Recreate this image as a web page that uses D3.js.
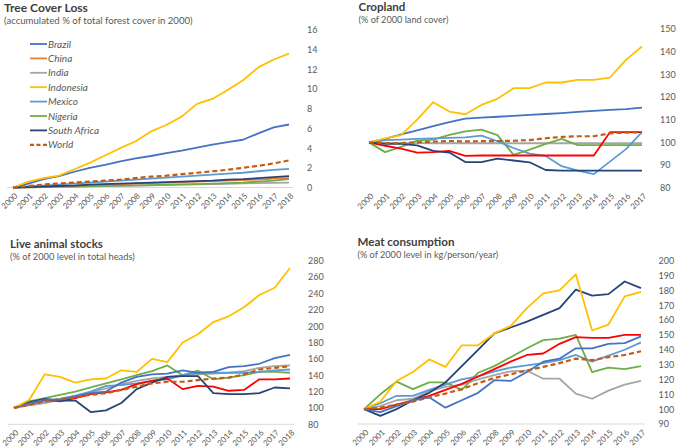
<!DOCTYPE html>
<html><head><meta charset="utf-8">
<script src="https://cdn.jsdelivr.net/npm/d3@7"></script>
<style>
body{margin:0;background:#fff;}
svg{display:block;}
text{font-family:Lato,"Open Sans",sans-serif;}
</style></head>
<body><svg id="c" width="676" height="448"></svg>
<script>
// ---------- tick labels / categories ----------
const years2018 = ["2000","2001","2002","2003","2004","2005","2006","2007","2008","2009","2010","2011","2012","2013","2014","2015","2016","2017","2018"];
const years2017 = years2018.slice(0, 18);
const countries = ["Brazil","China","India","Indonesia","Mexico","Nigeria","South Africa","World"];
const treeTicks = [0,2,4,6,8,10,12,14,16];
const cropTicks = [80,90,100,110,120,130,140,150];
const stockTicks = [80,100,120,140,160,180,200,220,240,260,280];
const meatTicks = [90,100,110,120,130,140,150,160,170,180,190,200];

// ---------- Tree cover loss (accumulated %) 2000-2018 ----------
const tcBrazil    = [0,0.4,0.85,1.15,1.6,2.0,2.3,2.65,2.95,3.2,3.5,3.75,4.05,4.35,4.6,4.85,5.5,6.1,6.4];
const tcChina     = [0,0.05,0.1,0.15,0.2,0.25,0.3,0.35,0.4,0.45,0.5,0.55,0.6,0.65,0.7,0.75,0.8,0.9,0.95];
const tcIndia     = [0,0.02,0.05,0.07,0.1,0.12,0.15,0.18,0.2,0.23,0.26,0.29,0.32,0.35,0.38,0.41,0.44,0.47,0.5];
const tcIndonesia = [0,0.6,0.95,1.2,1.85,2.5,3.25,4.0,4.7,5.7,6.35,7.2,8.5,9.0,9.9,10.9,12.2,13.0,13.6];
const tcMexico    = [0,0.1,0.2,0.3,0.4,0.5,0.6,0.7,0.8,0.9,1.0,1.1,1.2,1.3,1.4,1.5,1.65,1.8,1.9];
const tcNigeria   = [0,0.02,0.05,0.08,0.1,0.13,0.16,0.19,0.22,0.25,0.28,0.31,0.35,0.4,0.45,0.5,0.6,0.7,0.85];
const tcSAfrica   = [0,0.05,0.1,0.15,0.2,0.3,0.35,0.4,0.45,0.5,0.55,0.6,0.65,0.7,0.8,0.85,0.95,1.05,1.15];
const tcWorld     = [0,0.15,0.3,0.4,0.5,0.6,0.7,0.8,0.95,1.1,1.2,1.35,1.5,1.65,1.8,2.0,2.2,2.45,2.75];

// ---------- Cropland (% of 2000) 2000-2017 ----------
const crBrazil    = [100,101.5,103.5,105.3,107.2,108.9,110.5,110.9,111.3,111.7,112.1,112.5,112.9,113.4,113.9,114.3,114.7,115.3];
const crChina     = [100,98.5,97.2,95.5,95.7,96.2,94,94.2,94.2,94.2,94.2,94.2,94.2,94.2,94.2,104.5,104.5,104.5];
const crIndia     = [100,99.8,99.7,99.7,99.6,99.6,99.6,99.6,99.6,99.6,99.6,99.6,99.6,99.6,99.6,99.6,99.6,99.6];
const crIndonesia = [100,101.8,103.2,110,117.7,113.6,112.4,116.5,119.2,123.9,123.9,126.4,126.4,127.6,127.6,128.6,136.4,142.3];
const crMexico    = [100,101,101.2,101.5,101.8,102,102.2,103,100.5,97.5,95,94,89.5,87.5,86,91.5,97,104.5];
const crNigeria   = [100,95.7,98,100.8,101.2,103.3,104.8,105.6,103.2,94.5,96.8,99.3,101.5,98.8,98.8,98.8,98.8,98.8];
const crSAfrica   = [100,99.3,99.3,98.7,96.2,95.5,91.3,91.3,92.8,92,91.2,87.8,87.5,87.5,87.5,87.5,87.5,87.5];
const crWorld     = [100,99.7,99.7,100,100.3,100.6,100.4,100.5,100.6,100.7,101,101.8,102.4,102.7,102.7,104,104.3,104.5];

// ---------- Live animal stocks (% of 2000 heads) 2000-2018 ----------
const lsBrazil    = [100,106,110,110,114,118,120,131,138,141,142,146,143,144,150,151,154,161,165];
const lsChina     = [100,106,110,108,112,117,119,122,129,133,136,123,127,126,121,122,135,135,136];
const lsIndia     = [100,103,106,110,114,119,124,129,133,136,138,140,141,142,143,145,149,151,152];
const lsIndonesia = [100,110,141,138,131,135,136,146,144,160,156,180,190,205,212,223,238,247,271];
const lsMexico    = [100,104,108,111,115,120,127,128,130,133,135,140,143,143,143,143,144,146,147];
const lsNigeria   = [100,108,112,116,120,125,130,135,140,145,152,140,145.5,135,137,140,144,144,143];
const lsSAfrica   = [100,107,111,109,109,95,97,106,123,131,138,139,139,118,117,117,118,125,124];
const lsWorld     = [100,104,108,111,113,116,118,122,126,130,132,132,134,136,137,141,147,149,151];

// ---------- Meat consumption (% of 2000 kg/person/year) 2000-2017 ----------
const mcBrazil    = [100,98,102,106,108,101,106,111,119.5,119,125,132,134,141,141,144,144.5,149];
const mcChina     = [100,100,103,106,109,113,117,122,127,132,136.5,137.5,144,148.5,148,148,150,150];
const mcIndia     = [100,102,106,107,112,115,116.5,120,123,125.5,126,120.5,120.5,110.5,107,112.5,116.5,119];
const mcIndonesia = [100,105,119,125,133.5,128.5,143,143,151,156,168,178,180,190.8,153,157,176,179];
const mcMexico    = [100,104,109,109,113,116.5,120,122,125.5,128,129.5,131,133,136.5,132,136,140,145];
const mcNigeria   = [100,110,118.5,113.5,118,118,113,124.5,129,135,141,146.5,147.5,150,125,128,127,129];
const mcSAfrica   = [100,95.5,100,106,111,118,129,140,151,155,159,163.5,168,180.5,176.5,177.5,186,181.5];
const mcWorld     = [100,101,103,105,108,110.5,113.5,117.5,121,123.5,126,128.5,131,134,133,135,136.5,139];

// ---------- styling ----------
const colorsTree = ["#4472C4","#ED7D31","#A5A5A5","#FFC000","#5B9BD5","#70AD47","#264478","#C55A11"];
const colorsOther = ["#4472C4","#FF0000","#A5A5A5","#FFC000","#5B9BD5","#70AD47","#264478","#C55A11"];
const drawOrder = [2,5,4,1,6,0,3,7];

const panels = [
  {title:"Tree Cover Loss", tw:84, sub:"(accumulated % of total forest cover in 2000)", sw:189, tx:4, ty:11.5, sy:23.5,
   x0:13, x1:289, yb:187.5, yt:30, dom:[0,16], ticks:treeTicks, labX:307, cats:years2018,
   series:[tcBrazil,tcChina,tcIndia,tcIndonesia,tcMexico,tcNigeria,tcSAfrica,tcWorld], colors:colorsTree, legend:true, base:true},
  {title:"Cropland", tw:47, sub:"(% of 2000 land cover)", sw:90, tx:358.5, ty:11, sy:23,
   x0:369, x1:642, yb:187.7, yt:29, dom:[80,150], ticks:cropTicks, labX:660, cats:years2017,
   series:[crBrazil,crChina,crIndia,crIndonesia,crMexico,crNigeria,crSAfrica,crWorld], colors:colorsOther, base:false},
  {title:"Live animal stocks", tw:93, sub:"(% of 2000 level in total heads)", sw:125, tx:10, ty:247.5, sy:259.5,
   x0:14, x1:290, yb:424.3, yt:260.7, dom:[80,280], ticks:stockTicks, labX:308, cats:years2018,
   series:[lsBrazil,lsChina,lsIndia,lsIndonesia,lsMexico,lsNigeria,lsSAfrica,lsWorld], colors:colorsOther, base:true},
  {title:"Meat consumption", tw:97, sub:"(% of 2000 level in kg/person/year)", sw:141, tx:357.5, ty:245.5, sy:257.5,
   x0:364, x1:641, yb:424, yt:260.7, dom:[90,200], ticks:meatTicks, labX:658.5, cats:years2017,
   series:[mcBrazil,mcChina,mcIndia,mcIndonesia,mcMexico,mcNigeria,mcSAfrica,mcWorld], colors:colorsOther, base:true}
];

// scale a text's font size so that it spans the given width
function fitText(sel, width, base) {
  sel.attr("font-size", base);
  const w = sel.node().getComputedTextLength();
  if (w > 0) sel.attr("font-size", base * width / w);
}

const svg = d3.select("#c");

panels.forEach(p => {
  const g = svg.append("g");
  const x = d3.scalePoint().domain(p.cats).range([p.x0, p.x1]);
  const y = d3.scaleLinear().domain(p.dom).range([p.yb, p.yt]);

  const t = g.append("text").attr("x", p.tx).attr("y", p.ty).text(p.title)
    .attr("font-weight", 700).attr("fill", "#404040");
  fitText(t, p.tw, 12);
  const s = g.append("text").attr("x", p.tx).attr("y", p.sy).text(p.sub)
    .attr("fill", "#595959");
  fitText(s, p.sw, 9);

  if (p.base) {
    g.append("line").attr("x1", p.x0 - 6).attr("x2", p.x1 + 4)
      .attr("y1", y(p.dom[0])).attr("y2", y(p.dom[0]))
      .attr("stroke", "#D9D9D9").attr("stroke-width", 1);
  }

  const ya = d3.axisRight(y).tickValues(p.ticks).tickSize(0).tickPadding(0);
  const yg = g.append("g").attr("transform", `translate(${p.labX},0)`).call(ya);
  yg.select(".domain").remove();
  yg.selectAll("text").attr("font-size", 9).attr("fill", "#595959").attr("font-family","Lato,sans-serif");

  const xa = d3.axisBottom(x).tickSize(0).tickPadding(0);
  const xg = g.append("g").attr("transform", `translate(0,${p.yb})`).call(xa);
  xg.select(".domain").remove();
  xg.selectAll("text")
    .attr("font-size", 8).attr("fill", "#595959").attr("font-family","Lato,sans-serif")
    .attr("text-anchor", "end").attr("dy", "0.35em")
    .attr("transform", "translate(2.5,7) rotate(-45)");

  const line = d3.line().x((d,i) => x(p.cats[i])).y(d => y(d));
  drawOrder.forEach(k => {
    const isWorld = k === 7;
    g.append("path").datum(p.series[k])
      .attr("d", line).attr("fill", "none")
      .attr("stroke", p.colors[k])
      .attr("stroke-width", isWorld ? 2.2 : 1.8)
      .attr("stroke-dasharray", isWorld ? "5,3" : null)
      .attr("stroke-linejoin", "round");
  });

  if (p.legend) {
    const lg = g.append("g");
    countries.forEach((c, i) => {
      const yy = 44 + i * 14.4;
      lg.append("line").attr("x1", 30).attr("x2", 47).attr("y1", yy).attr("y2", yy)
        .attr("stroke", p.colors[i]).attr("stroke-width", i === 7 ? 2.2 : 1.8)
        .attr("stroke-dasharray", i === 7 ? "4,2.5" : null);
      lg.append("text").attr("x", 48).attr("y", yy).attr("dy", "0.35em").text(c)
        .attr("font-size", 10).attr("font-style", "italic").attr("fill", "#595959");
    });
  }
});
</script></body></html>
